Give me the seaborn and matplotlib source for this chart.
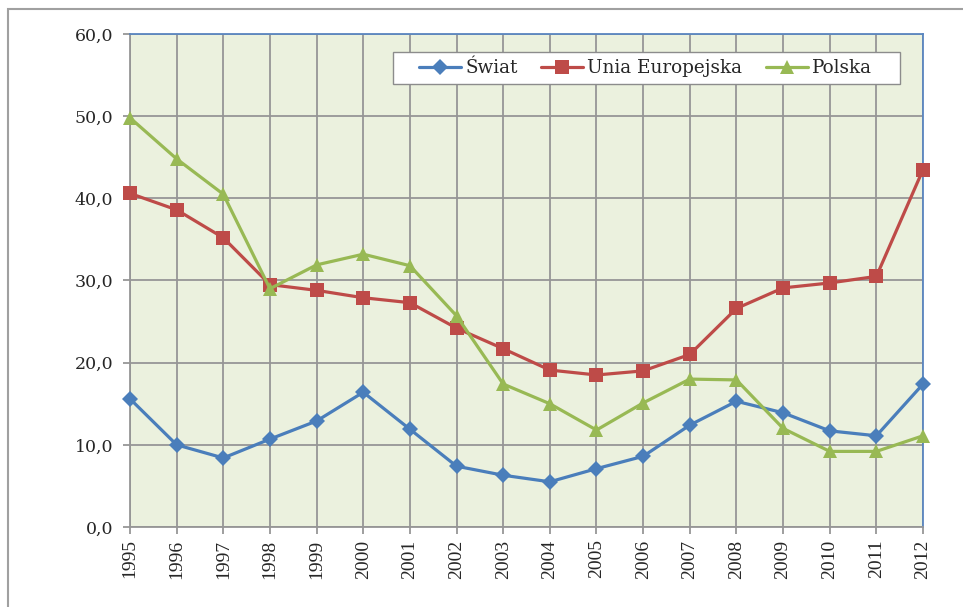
import numpy as np
import pandas as pd
import matplotlib
matplotlib.use("Agg")
import matplotlib.pyplot as plt
import seaborn as sns
from matplotlib.patches import Rectangle
from matplotlib.ticker import FuncFormatter, MultipleLocator

# Data
years = list(range(1995, 2013))
swiat = [15.6, 10.0, 8.4, 10.7, 12.9, 16.4, 11.9, 7.4, 6.3, 5.5,
         7.1, 8.6, 12.4, 15.3, 13.9, 11.7, 11.1, 17.4]
unia = [40.6, 38.6, 35.2, 29.5, 28.8, 27.9, 27.3, 24.2, 21.7, 19.1,
        18.5, 19.0, 21.0, 26.6, 29.1, 29.7, 30.5, 43.5]
polska = [49.8, 44.8, 40.5, 29.0, 31.9, 33.2, 31.8, 25.7, 17.4, 15.0,
          11.8, 15.1, 18.0, 17.9, 12.0, 9.2, 9.2, 11.1]
series_names = ["Świat", "Unia Europejska", "Polska"]

sns.set_style("white")

fig = plt.figure(figsize=(9.63, 6.07), dpi=100)
ax = fig.add_axes([0.135, 0.1318, 0.8235, 0.8122])
ax.set_facecolor("#EBF1DE")

styles = {
    "Świat": dict(color="#4A7EBB", marker="D", markersize=8),
    "Unia Europejska": dict(color="#BE4B48", marker="s", markersize=9.5),
    "Polska": dict(color="#98B954", marker="^", markersize=10.5),
}

for name, vals in zip(series_names, [swiat, unia, polska]):
    df = pd.DataFrame({"rok": years, "wartosc": vals})
    st = styles[name]
    sns.lineplot(data=df, x="rok", y="wartosc", ax=ax, color=st["color"],
                 marker=st["marker"], markersize=st["markersize"],
                 markeredgewidth=0, linewidth=2.3, label=name,
                 clip_on=False, zorder=3)

ax.set_xlim(1995, 2012)
ax.set_ylim(0, 60)
ax.set_xticks(years)
ax.yaxis.set_major_locator(MultipleLocator(10))
ax.yaxis.set_major_formatter(FuncFormatter(lambda v, p: f"{v:.1f}".replace(".", ",")))
ax.set_xlabel("")
ax.set_ylabel("")

ax.grid(True, color="#969696", linewidth=1.3, zorder=1)
ax.set_axisbelow(True)

for side in ["left", "bottom"]:
    ax.spines[side].set_color("#969696")
    ax.spines[side].set_linewidth(1.3)
for side in ["top", "right"]:
    ax.spines[side].set_color("#5A86C0")
    ax.spines[side].set_linewidth(1.3)

ax.tick_params(axis="both", which="major", direction="out", length=5,
               width=1.3, color="#969696", bottom=True, left=True)
ax.tick_params(axis="y", pad=7)
ax.tick_params(axis="x", pad=4)
for lab in ax.get_yticklabels():
    lab.set_fontfamily("DejaVu Serif")
    lab.set_fontsize(12.5)
for lab in ax.get_xticklabels():
    lab.set_fontfamily("Liberation Serif")
    lab.set_fontsize(14)
    lab.set_rotation(90)

# legend box (wider padding than matplotlib's own frame allows)
ax.add_patch(Rectangle((0.3317, 0.8986), 0.6393, 0.0649, transform=ax.transAxes,
                       facecolor="white", edgecolor="#8C8C8C", linewidth=1.0,
                       zorder=4))
leg = ax.legend(loc="center", bbox_to_anchor=(0.650, 0.931), ncol=3,
                frameon=False, handlelength=2.3, columnspacing=1.3,
                handletextpad=0.2, borderpad=0.0, borderaxespad=0,
                prop={"family": "DejaVu Serif", "size": 13.2})
leg.set_zorder(5)

# outer chart frame (cropped screenshot)
fig.add_artist(Rectangle((7.5 / 963, -0.1), 1.2, 1.1 - 9 / 607,
                         transform=fig.transFigure, fill=False,
                         edgecolor="#A0A0A0", linewidth=1.5))

fig.savefig("out.png", dpi=100)
